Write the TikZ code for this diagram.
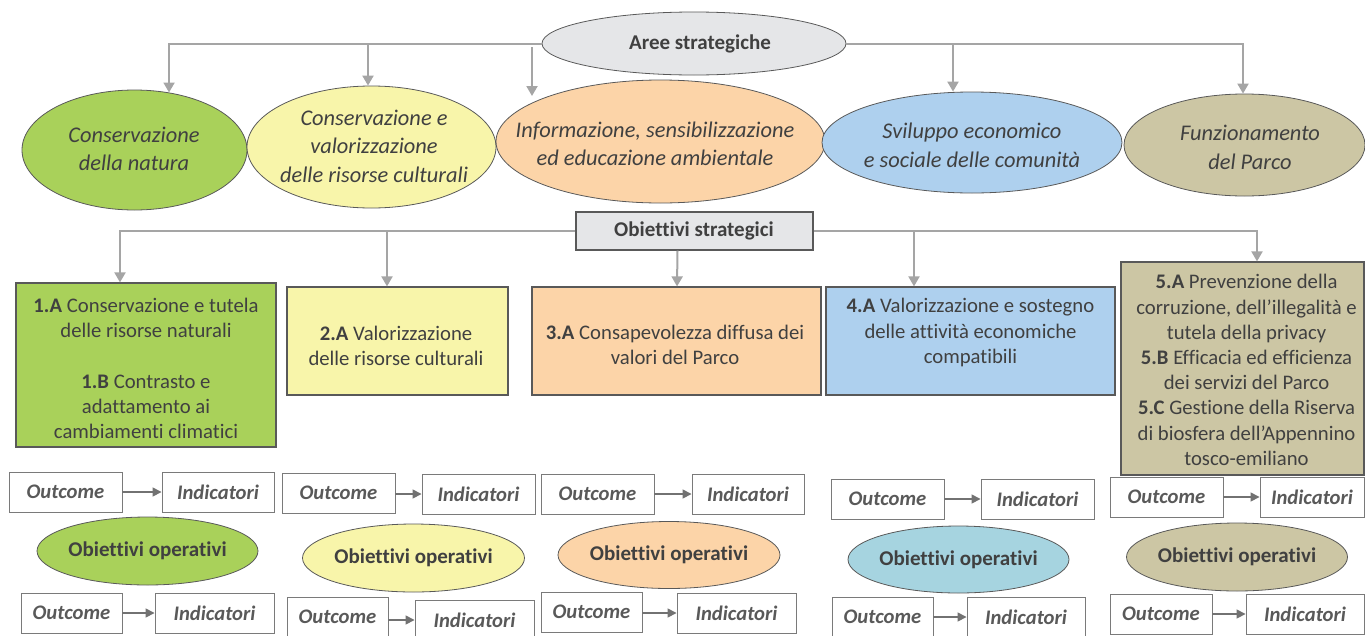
\documentclass[tikz,border=0pt]{standalone}
\usepackage{fontspec}
\setmainfont{Carlito}[Ligatures=NoCommon]
\usetikzlibrary{arrows.meta,shapes.geometric}
\definecolor{txt}{HTML}{404040}
\definecolor{otxt}{HTML}{595959}
\definecolor{connc}{HTML}{A5A5A5}
\definecolor{bord}{HTML}{595959}
\definecolor{cgreen}{HTML}{A9D15A}
\definecolor{cyellow}{HTML}{F8F5AA}
\definecolor{cpeach}{HTML}{FCD4A8}
\definecolor{cblue}{HTML}{AED0EE}
\definecolor{ctan}{HTML}{CCC6A4}
\definecolor{cteal}{HTML}{A6D4E0}
\definecolor{cgray}{HTML}{E5E6E8}
\begin{document}
\begin{tikzpicture}[x=1pt,y=-1pt,
  ell/.style={ellipse, draw=bord, line width=0.8pt, inner sep=0pt},
  ittxt/.style={font=\fontsize{22.4}{28.5}\selectfont\itshape, text=txt, align=center, inner sep=0pt},
  boxtxt/.style={font=\fontsize{20.7}{25.2}\selectfont, text=txt, align=center, inner sep=0pt},
  hdr/.style={font=\fontsize{21}{24}\selectfont\bfseries, text=txt, inner sep=0pt},
  sbox/.style={rectangle, draw=bord, line width=1.2pt, inner sep=0pt},
  obox/.style={rectangle, draw=otxt!80, line width=0.9pt, minimum height=40pt, font=\fontsize{20.7}{24}\selectfont\bfseries\itshape, text=otxt, inner sep=0pt},
  conn/.style={draw=connc, line width=2pt, -{Triangle[length=10pt,width=11pt]}},
  oarr/.style={draw=otxt!85, line width=1.5pt, -{Triangle[length=9pt,width=9pt]}}
]
\useasboundingbox (0,0) rectangle (1365,635);
\clip (0,0) rectangle (1365,635);

% ---- Aree strategiche ----
\node[ell, fill=cgray, minimum width=304pt, minimum height=63pt] (as) at (694,43.5) {};
\node[hdr] (ast) at (700,43.5) {Aree strategiche};

\node[ell, fill=cgreen, minimum width=225pt, minimum height=120pt] (e1) at (134.5,150) {};
\node[ell, fill=cyellow, minimum width=249pt, minimum height=122pt] (e2) at (371.5,147) {};
\node[ell, fill=cpeach, minimum width=329pt, minimum height=123pt] (e3) at (660.5,141.5) {};
\node[ell, fill=cblue, minimum width=300pt, minimum height=101pt] (e4) at (972,142.5) {};
\node[ell, fill=ctan, minimum width=241pt, minimum height=102pt] (e5) at (1244.5,145) {};

\node[ittxt] (e1t) at (134,149) {Conservazione\\della natura};
\node[ittxt] (e2t) at (374,146) {Conservazione e\\valorizzazione\\delle risorse culturali};
\node[ittxt] (e3t) at (655,144) {Informazione, sensibilizzazione\\ed educazione ambientale};
\node[ittxt] (e4t) at (972,145.5) {Sviluppo economico\\e sociale delle comunità};
\node[ittxt] (e5t) at (1250,147.5) {Funzionamento\\del Parco};

\coordinate (j2) at (368,43.5);
\coordinate (j3) at (532,47);
\coordinate (t3) at (532,96);
\coordinate (j4) at (953,43.5);
\draw[conn] (as.west) -| (e1.59);
\draw[conn] (j2) -- ([xshift=-3.5pt]e2.north);
\draw[conn] (j3) -- (t3);
\draw[conn] (j4) -- ([xshift=-19pt]e4.north);
\draw[conn] (as.east) -| ([xshift=-1.5pt]e5.north);

% ---- Obiettivi strategici ----
\node[sbox, fill=cgray, minimum width=237pt, minimum height=38pt] (os) at (694.5,231) {};
\node[hdr] (ost) at (694,231) {Obiettivi strategici};

\node[sbox, fill=cgreen, minimum width=260pt, minimum height=164pt] (b1) at (146,365) {};
\node[sbox, fill=cyellow, minimum width=221pt, minimum height=108pt] (b2) at (397.5,341) {};
\node[sbox, fill=cpeach, minimum width=289pt, minimum height=108pt] (b3) at (676.5,341) {};
\node[sbox, fill=cblue, minimum width=289pt, minimum height=108pt] (b4) at (970.5,341) {};
\node[sbox, fill=ctan, minimum width=243pt, minimum height=213pt] (b5) at (1242.5,368.5) {};

\node[boxtxt] (b1t) at (146,368.5) {\textbf{1.A} Conservazione e tutela\\delle risorse naturali\\[25pt]\textbf{1.B} Contrasto e\\adattamento ai\\cambiamenti climatici};
\node[boxtxt] (b2t) at (396,345.5) {\textbf{2.A} Valorizzazione\\delle risorse culturali};
\node[boxtxt] (b3t) at (675,345) {\textbf{3.A} Consapevolezza diffusa dei\\valori del Parco};
\node[boxtxt] (b4t) at (970.5,332.5) {\textbf{4.A} Valorizzazione e sostegno\\delle attività economiche\\compatibili};
\node[boxtxt] (b5t) at (1246.5,370) {\textbf{5.A} Prevenzione della\\corruzione, dell’illegalità e\\tutela della privacy\\\textbf{5.B} Efficacia ed efficienza\\dei servizi del Parco\\\textbf{5.C} Gestione della Riserva\\di biosfera dell’Appennino\\tosco-emiliano};

\coordinate (k2) at (387,231);
\coordinate (k4) at (914,231);
\draw[conn] (os.west) -| ([xshift=-26pt]b1.north);
\draw[conn] (k2) -- ([xshift=-10.5pt]b2.north);
\draw[conn] ([xshift=-17pt]os.south) -- ([xshift=0.5pt]b3.north);
\draw[conn] (k4) -- ([xshift=-56.5pt]b4.north);
\draw[conn] (os.east) -| ([xshift=14.5pt]b5.north);

% ---- Outcome / Indicatori (upper row) ----
\node[obox, minimum width=113pt] (o1a) at (65.5,492) {Outcome};
\node[obox, minimum width=112pt] (i1a) at (218,492) {Indicatori};
\node[obox, minimum width=113pt] (o2a) at (338.5,493) {Outcome};
\node[obox, minimum width=113pt] (i2a) at (478.5,494) {Indicatori};
\node[obox, minimum width=113pt] (o3a) at (597.5,494) {Outcome};
\node[obox, minimum width=112pt] (i3a) at (748,494) {Indicatori};
\node[obox, minimum width=113pt] (o4a) at (887.5,499) {Outcome};
\node[obox, minimum width=113pt] (i4a) at (1037.5,499) {Indicatori};
\node[obox, minimum width=113pt] (o5a) at (1166.5,497) {Outcome};
\node[obox, minimum width=104pt] (i5a) at (1312,497) {Indicatori};
\foreach \n in {1,...,5}{
  \draw[oarr] (i\n a.west -| o\n a.east) -- (i\n a.west);
}

% ---- Obiettivi operativi ----
\node[ell, fill=cgreen, minimum width=221pt, minimum height=68pt] (p1) at (147.5,551) {};
\node[ell, fill=cyellow, minimum width=222pt, minimum height=68pt] (p2) at (413.5,558) {};
\node[ell, fill=cpeach, minimum width=222pt, minimum height=67pt] (p3) at (669,555) {};
\node[ell, fill=cteal, minimum width=221pt, minimum height=67pt] (p4) at (958.5,559.5) {};
\node[ell, fill=ctan, minimum width=221pt, minimum height=68pt] (p5) at (1237,557) {};
\node[hdr] (p1t) at (p1) {Obiettivi operativi};
\node[hdr] (p2t) at (p2) {Obiettivi operativi};
\node[hdr] (p3t) at (p3) {Obiettivi operativi};
\node[hdr] (p4t) at (p4) {Obiettivi operativi};
\node[hdr] (p5t) at (p5) {Obiettivi operativi};

% ---- Outcome / Indicatori (lower row) ----
\node[obox, minimum width=101pt] (o1b) at (71.5,613) {Outcome};
\node[obox, minimum width=119pt] (i1b) at (214.5,613) {Indicatori};
\node[obox, minimum width=101pt] (o2b) at (337.5,617) {Outcome};
\node[obox, minimum width=119pt] (i2b) at (474.5,620) {Indicatori};
\node[obox, minimum width=101pt] (o3b) at (591.5,612) {Outcome};
\node[obox, minimum width=119pt] (i3b) at (736.5,613) {Indicatori};
\node[obox, minimum width=101pt] (o4b) at (882.5,617) {Outcome};
\node[obox, minimum width=118pt] (i4b) at (1026,617) {Indicatori};
\node[obox, minimum width=102pt] (o5b) at (1161,614) {Outcome};
\node[obox, minimum width=118pt] (i5b) at (1305,614) {Indicatori};
\foreach \n in {1,...,5}{
  \draw[oarr] (i\n b.west -| o\n b.east) -- (i\n b.west);
}
\end{tikzpicture}
\end{document}
